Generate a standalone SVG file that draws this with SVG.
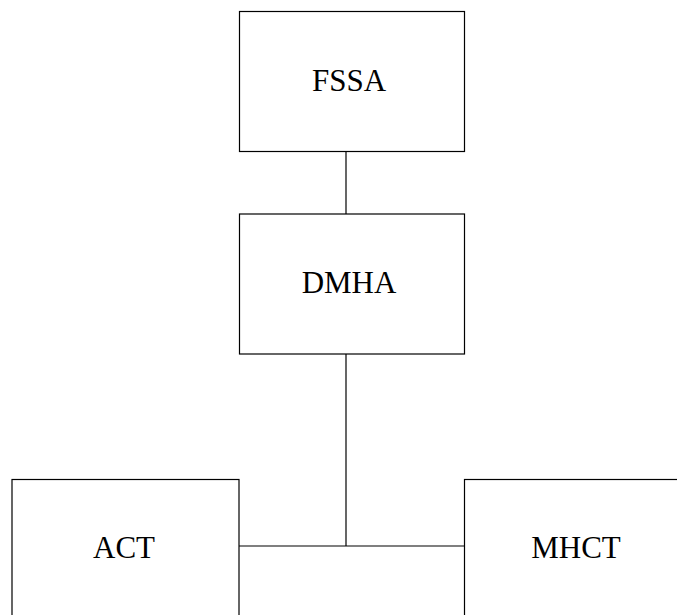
<svg xmlns="http://www.w3.org/2000/svg" width="677" height="615" viewBox="0 0 677 615">
<style>
.box{fill:#fff;stroke:#000;stroke-width:1.2}
.lbl{font-family:"Liberation Serif",serif;font-size:31px;text-anchor:middle;fill:#000}
.conn{stroke:#000;stroke-width:1.2;fill:none}
</style>
<rect width="677" height="615" fill="#fff"/>
<g id="connectors">
<line class="conn" x1="346" y1="151.5" x2="346" y2="214"/>
<line class="conn" x1="346" y1="354" x2="346" y2="546"/>
<line class="conn" x1="239" y1="546" x2="464.5" y2="546"/>
</g>
<g id="fssa">
<rect class="box" x="239.5" y="11.5" width="225" height="140"/>
<text class="lbl" x="349" y="91">FSSA</text>
</g>
<g id="dmha">
<rect class="box" x="239.5" y="214" width="225" height="140"/>
<text class="lbl" x="349" y="293">DMHA</text>
</g>
<g id="act">
<rect class="box" x="12" y="479.5" width="227" height="150"/>
<text class="lbl" x="124" y="558">ACT</text>
</g>
<g id="mhct">
<rect class="box" x="464.5" y="479.5" width="227" height="150"/>
<text class="lbl" x="576" y="558">MHCT</text>
</g>
</svg>
